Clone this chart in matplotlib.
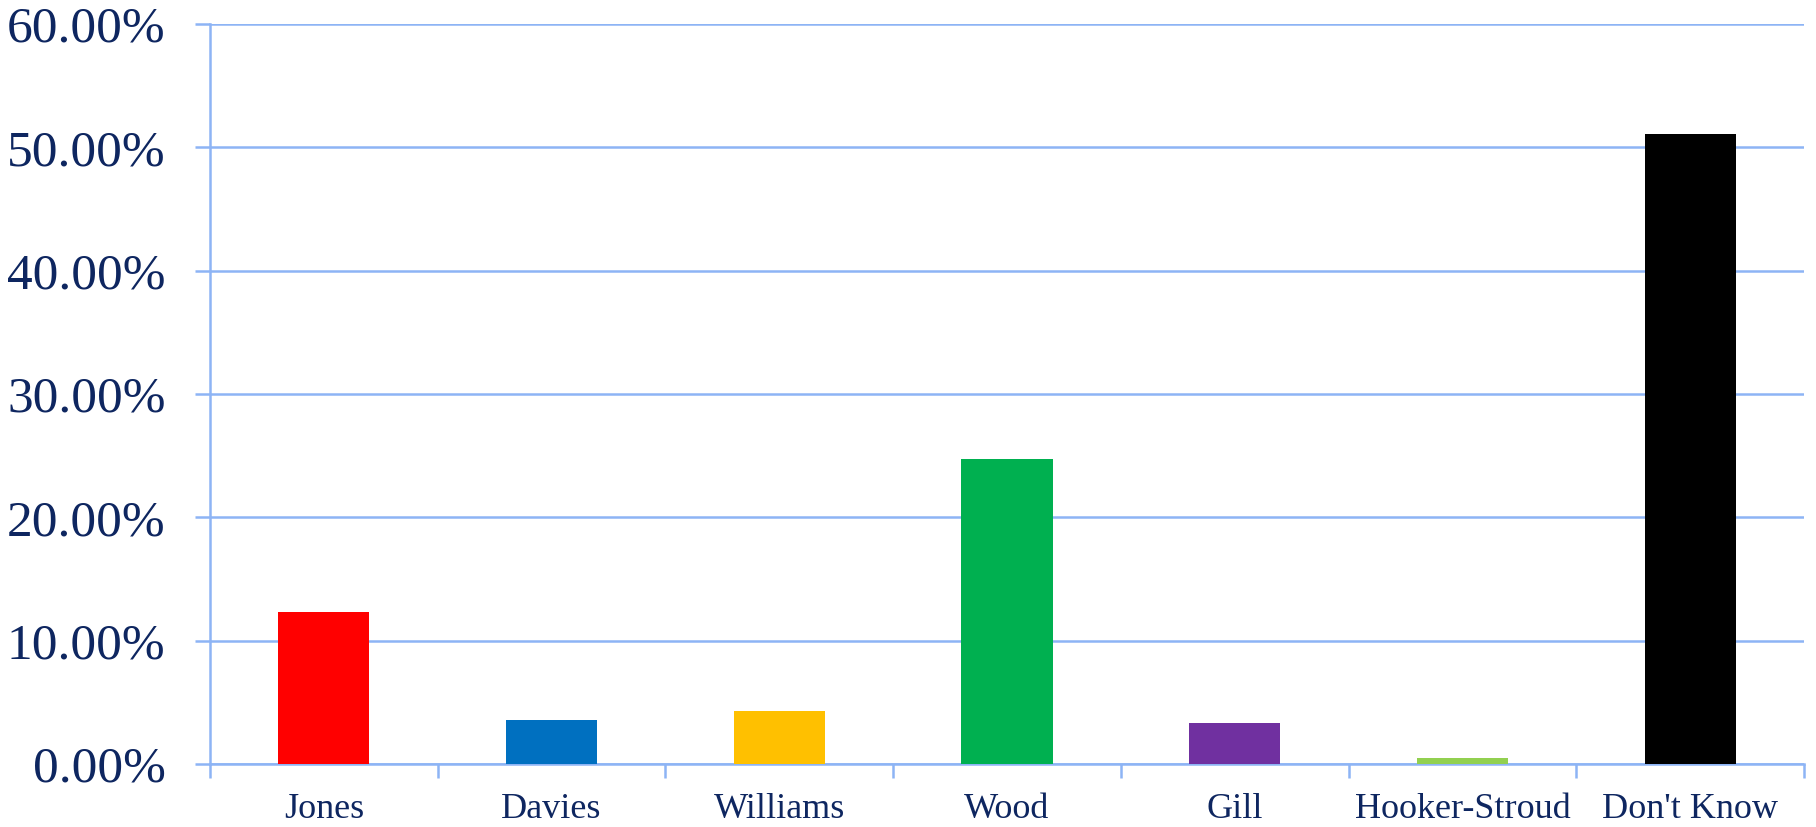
import matplotlib
matplotlib.use("Agg")
import matplotlib.pyplot as plt
from matplotlib.ticker import FuncFormatter, FixedLocator
import numpy as np

candidates = ["Jones", "Davies", "Williams", "Wood", "Gill", "Hooker-Stroud", "Don't Know"]
shares = [12.35, 3.6, 4.3, 24.7, 3.3, 0.5, 51.1]
colors = ["#FF0000", "#0070C0", "#FFC000", "#00B050", "#7030A0", "#92D050", "#000000"]

GRID = "#8DB4F5"
TEXT = "#0E2660"

fig = plt.figure(figsize=(18.16, 8.27), dpi=100)
ax = fig.add_axes([0.1156, 0.0762, 0.9934 - 0.1156, 0.971 - 0.0762])

x = np.arange(len(candidates))
ax.bar(x, shares, width=0.4, color=colors, zorder=3)

ax.set_xlim(-0.5, len(candidates) - 0.5)
ax.set_ylim(0, 60)
ax.set_yticks(np.arange(0, 61, 10))
ax.yaxis.set_major_formatter(FuncFormatter(lambda v, p: "%.2f%%" % v))
ax.grid(axis="y", color=GRID, lw=1.8, zorder=0)

# category boundaries as major ticks, names on minor ticks
ax.xaxis.set_major_locator(FixedLocator(np.arange(-0.5, len(candidates), 1.0)))
ax.xaxis.set_major_formatter(FuncFormatter(lambda v, p: ""))
ax.xaxis.set_minor_locator(FixedLocator(x))
ax.set_xticklabels(candidates, minor=True)
ax.tick_params(axis="x", which="major", length=10, width=1.8, color=GRID, direction="out")
ax.tick_params(axis="x", which="minor", length=0, pad=21, labelsize=26, labelcolor=TEXT)
ax.tick_params(axis="y", length=11, width=1.8, color=GRID, direction="out", pad=21,
               labelsize=37, labelcolor=TEXT)

for side in ("top", "right"):
    ax.spines[side].set_visible(False)
for side in ("left", "bottom"):
    ax.spines[side].set_color(GRID)
    ax.spines[side].set_linewidth(1.8)

for lab in ax.get_xticklabels(minor=True) + ax.get_yticklabels():
    lab.set_fontfamily("Liberation Serif")

fig.savefig("out.png", dpi=100)
